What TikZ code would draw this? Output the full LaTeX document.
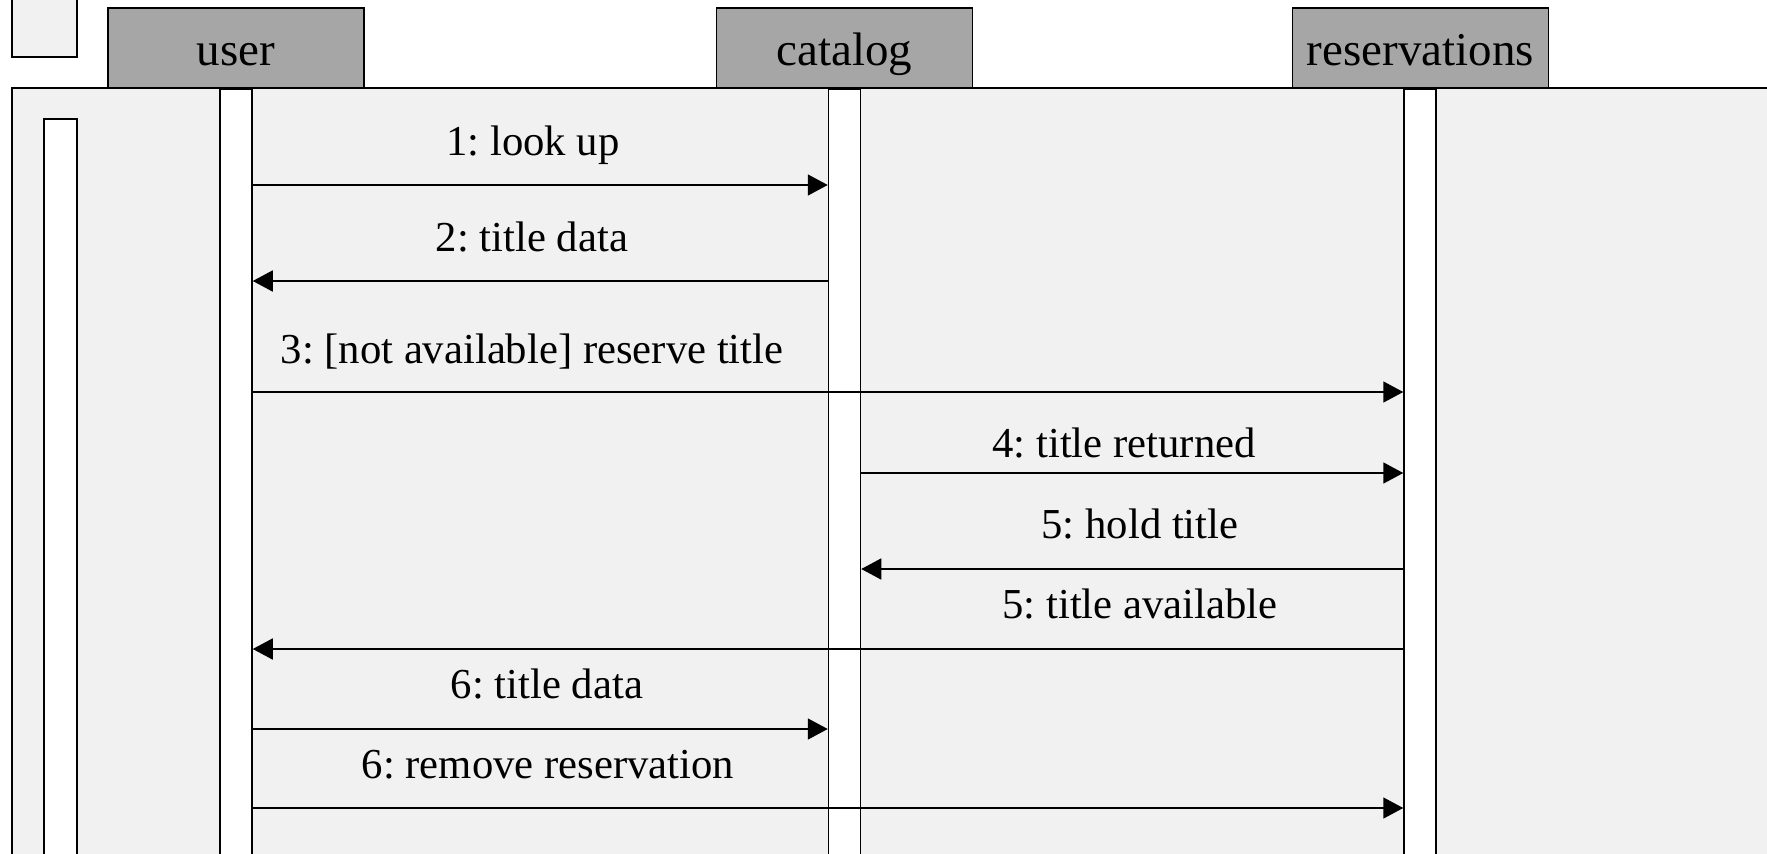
\documentclass[tikz,border=0pt]{standalone}
\usepackage{fontspec}
\setmainfont{Liberation Serif}
\usetikzlibrary{arrows.meta}
\definecolor{headgray}{HTML}{A6A6A6}
\definecolor{hatchgray}{HTML}{F1F1F1}
\frenchspacing
\begin{document}
\begin{tikzpicture}[x=1pt,y=-1pt,
  hatch/.style={fill=hatchgray},
  lifeline/.style={draw, line width=1.5pt, fill=white, minimum width=32pt, minimum height=800pt, inner sep=0pt, anchor=north},
  header/.style={draw, line width=1.5pt, fill=headgray, minimum width=256pt, minimum height=80pt, inner sep=0pt, text height=40pt, text depth=6pt, font=\fontsize{47}{56}\selectfont},
  msg/.style={line width=1.6pt, -{Triangle[length=20pt,width=21pt]}},
  msglabel/.style={anchor=base, inner sep=0pt, font=\fontsize{42.7}{51}\selectfont}]
\useasboundingbox (0,0) rectangle (1767,854);
% frame and side boxes
\draw[hatch, line width=2.5pt] (12,88) rectangle (1800,900);
\draw[hatch, line width=2pt] (12,-10) rectangle (77,57);
\draw[fill=white, line width=2pt] (44,119) rectangle (77,900);
% lifelines
\node[lifeline] (user) at (236,88) {};
\node[lifeline] (catalog) at (844.5,88) {};
\node[lifeline] (reservations) at (1420,88) {};
% headers
\node[header] (userH) at (236,48) {user};
\node[header] (catalogH) at (844.5,48) {catalog};
\node[header] (reservationsH) at (1420.5,48) {reservations};
% rows
\coordinate (r1) at (0,185);
\coordinate (r2) at (0,281);
\coordinate (r3) at (0,392);
\coordinate (r4) at (0,473);
\coordinate (r5) at (0,569);
\coordinate (r6) at (0,649);
\coordinate (r7) at (0,729);
\coordinate (r8) at (0,808);
% messages
\draw[msg] (user.east |- r1) -- (catalog.west |- r1);
\draw[msg] (catalog.west |- r2) -- (user.east |- r2);
\draw[msg] (user.east |- r3) -- (reservations.west |- r3);
\draw[msg] (catalog.east |- r4) -- (reservations.west |- r4);
\draw[msg] (reservations.west |- r5) -- (catalog.east |- r5);
\draw[msg] (reservations.west |- r6) -- (user.east |- r6);
\draw[msg] (user.east |- r7) -- (catalog.west |- r7);
\draw[msg] (user.east |- r8) -- (reservations.west |- r8);
% labels
\node[msglabel] (l1) at (533,155) {1: look up};
\node[msglabel] (l2) at (532,251) {2: title data};
\node[msglabel] (l3) at (532,363) {3: [not available] reserve title};
\node[msglabel] (l4) at (1124,457) {4: title returned};
\node[msglabel] (l5) at (1140,538) {5: hold title};
\node[msglabel] (l6) at (1140,618) {5: title available};
\node[msglabel] (l7) at (547,698) {6: title data};
\node[msglabel] (l8) at (548,778) {6: remove reservation};
\end{tikzpicture}
\end{document}
